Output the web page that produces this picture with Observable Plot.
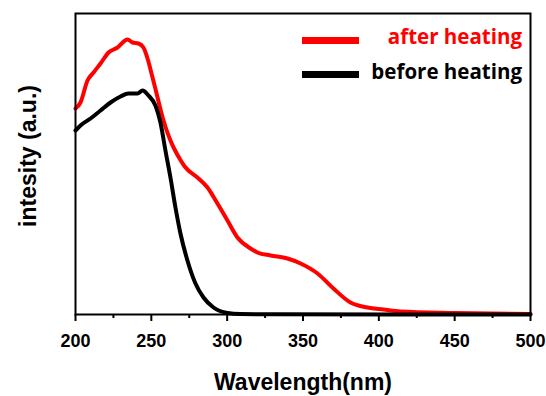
<!DOCTYPE html>
<html><head><meta charset="utf-8">
<script src="https://cdn.jsdelivr.net/npm/d3@7"></script>
<script src="https://cdn.jsdelivr.net/npm/@observablehq/plot@0.6"></script>
<style>
body{margin:0;background:#fff}
#wrap{position:relative;width:546px;height:396px;overflow:hidden}
.leg{position:absolute;font-family:"Open Sans","Noto Sans",sans-serif;font-weight:bold;font-size:20.5px;line-height:1;white-space:nowrap}
.sw{position:absolute;height:7px}
</style>
</head><body><div id="wrap"></div>
<script>
const seriesNames = ["after heating", "before heating"];
const seriesColors = ["#ff0000", "#000000"];

const afterWavelength = [200,203.3,207.9,211.9,216.5,221.8,227.7,234.3,237.6,241.5,244.8,247.5,250.8,254.1,258.0,262.6,265,269,272,280.4,287.0,293.6,300.2,306.8,315.4,320.0,328.6,339.8,348.4,359.6,370.1,381.3,392.5,403.1,414.3,450,500];
const afterIntensity  = [2.06,2.12,2.34,2.42,2.51,2.62,2.67,2.75,2.72,2.71,2.67,2.56,2.37,2.17,1.94,1.74,1.66,1.55,1.48,1.37,1.27,1.11,0.94,0.77,0.66,0.62,0.59,0.56,0.51,0.41,0.26,0.12,0.07,0.05,0.03,0.015,0.005];

const beforeWavelength = [200,203.3,209.9,216.5,223.1,229.7,234.9,240.9,244.2,248.1,252.7,256.0,259.3,262.6,265.9,269.2,273.8,279.1,284.4,291.0,300.2,308.8,330,500];
const beforeIntensity  = [1.84,1.89,1.96,2.04,2.12,2.18,2.21,2.21,2.24,2.19,2.09,1.92,1.64,1.37,1.07,0.81,0.54,0.31,0.17,0.07,0.015,0.005,0.002,0];

const xTicks = [200,250,300,350,400,450,500];
const xMinorTicks = [225,275,325,375,425,475];
const xLabel = "Wavelength(nm)";
const yLabel = "intesity (a.u.)";

const rows = [
  ...afterWavelength.map((w,i) => ({w, v: afterIntensity[i], s: seriesNames[0]})),
  ...beforeWavelength.map((w,i) => ({w, v: beforeIntensity[i], s: seriesNames[1]}))
];

const chart = Plot.plot({
  width: 546, height: 396,
  marginTop: 13, marginRight: 16, marginBottom: 82, marginLeft: 75,
  style: {fontFamily: "'Liberation Sans', Arial, sans-serif", background: "white", color: "black"},
  x: {domain: [200, 500]},
  y: {domain: [0, 3.01], axis: null},
  color: {domain: seriesNames, range: seriesColors},
  marks: [
    Plot.line(rows, {x: "w", y: "v", z: "s", stroke: "s", strokeWidth: 4, curve: "monotone-x"}),
    Plot.frame({strokeWidth: 2}),
    Plot.axisX(xTicks, {tickSize: 7, tickPadding: 13, fontSize: 18, fontWeight: "bold", strokeWidth: 2, label: null}),
    Plot.axisX(xMinorTicks, {tickSize: 4, tickFormat: () => "", strokeWidth: 2, label: null}),
    Plot.text([xLabel], {frameAnchor: "bottom", textAnchor: "middle", lineAnchor: "bottom", dy: 75, fontSize: 23, fontWeight: "bold"}),
    Plot.text([yLabel], {frameAnchor: "left", textAnchor: "middle", lineAnchor: "middle", dx: -47, dy: -8, rotate: -90, fontSize: 23, fontWeight: "bold"})
  ]
});
const wrap = document.getElementById("wrap");
wrap.appendChild(chart);

// legend
const legTops = [26, 61];
seriesNames.forEach((name, i) => {
  const sw = document.createElement("div");
  sw.className = "sw";
  sw.style.left = "302px";
  sw.style.width = "57px";
  sw.style.top = (i === 0 ? 37 : 71) + "px";
  sw.style.background = seriesColors[i];
  wrap.appendChild(sw);
  const t = document.createElement("div");
  t.className = "leg";
  t.style.right = (546 - 522) + "px";
  t.style.top = legTops[i] + "px";
  t.style.color = seriesColors[i];
  t.textContent = name;
  wrap.appendChild(t);
});
</script>
</body></html>
